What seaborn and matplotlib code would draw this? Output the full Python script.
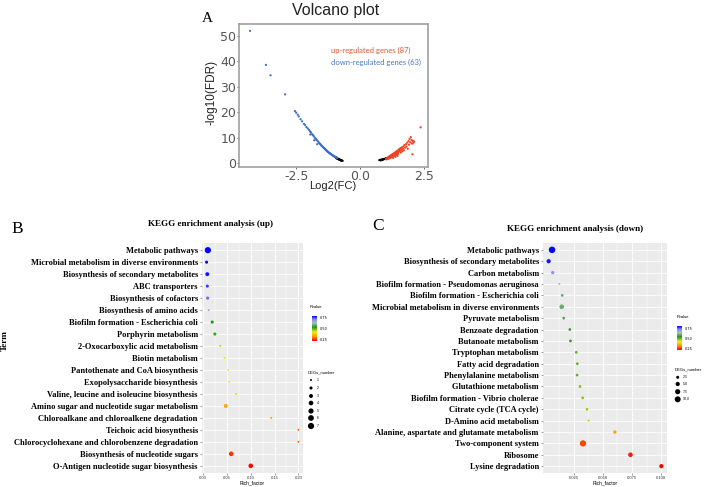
import numpy as np
import pandas as pd
import matplotlib
matplotlib.use('Agg')
import matplotlib.pyplot as plt
import seaborn as sns
from matplotlib.colors import LinearSegmentedColormap, Normalize
from matplotlib.cm import ScalarMappable

# ---- volcano data (log2FC, -log10 FDR) ----
down_pts = [(-4.30, 52.0), (-3.68, 38.6), (-3.50, 34.5), (-2.93, 27.0),
            (-2.55, 20.4), (-2.50, 19.8), (-2.44, 19.0), (-2.40, 18.3), (-2.33, 17.2),
            (-2.27, 16.4), (-2.20, 15.4), (-2.15, 14.9), (-2.10, 14.1), (-2.05, 13.6),
            (-2.00, 13.0), (-1.96, 12.4), (-1.95, 11.2), (-1.92, 12.0), (-1.88, 11.3),
            (-1.85, 11.0), (-1.82, 10.6), (-1.80, 8.9), (-1.78, 10.0), (-1.75, 9.7),
            (-1.72, 9.3), (-1.70, 9.0), (-1.68, 7.4), (-1.66, 8.6), (-1.62, 8.1),
            (-1.60, 7.8), (-1.57, 7.5), (-1.55, 7.3), (-1.52, 6.9), (-1.50, 6.7),
            (-1.47, 6.4), (-1.45, 6.2), (-1.42, 5.9), (-1.40, 5.7), (-1.38, 5.5),
            (-1.36, 5.3), (-1.34, 5.1), (-1.32, 4.9), (-1.30, 4.7), (-1.28, 4.5),
            (-1.26, 4.4), (-1.24, 4.2), (-1.22, 4.0), (-1.20, 3.9), (-1.18, 3.7),
            (-1.16, 3.6), (-1.14, 3.4), (-1.12, 3.3), (-1.10, 3.1), (-1.08, 3.0),
            (-1.06, 2.9), (-1.04, 2.7), (-1.02, 2.6), (-1.00, 2.5), (-0.98, 2.4),
            (-0.96, 2.3), (-0.94, 2.2), (-0.92, 2.1), (-0.90, 2.0)]
up_pts = [(1.00, 1.5), (1.02, 1.7), (1.03, 1.4), (1.05, 1.9), (1.06, 1.6), (1.07, 2.1),
          (1.08, 1.8), (1.09, 2.3), (1.10, 2.0), (1.11, 1.7), (1.12, 2.5), (1.13, 2.2),
          (1.14, 1.9), (1.15, 2.7), (1.16, 2.4), (1.17, 2.1), (1.18, 2.9), (1.19, 2.6),
          (1.20, 2.2), (1.21, 3.1), (1.22, 2.8), (1.23, 2.4), (1.24, 3.3), (1.25, 3.0),
          (1.26, 2.6), (1.27, 3.5), (1.28, 3.1), (1.29, 2.7), (1.30, 3.7), (1.31, 3.3),
          (1.32, 2.9), (1.33, 3.9), (1.34, 3.5), (1.35, 3.0), (1.36, 4.1), (1.38, 4.3),
          (1.39, 3.7), (1.40, 3.2), (1.42, 4.6), (1.43, 4.0), (1.44, 3.5), (1.46, 4.9),
          (1.47, 4.2), (1.48, 3.6), (1.50, 5.2), (1.52, 4.5), (1.53, 5.5), (1.55, 4.8),
          (1.57, 5.8), (1.58, 4.1), (1.60, 5.2), (1.62, 6.1), (1.64, 4.6), (1.66, 5.6),
          (1.68, 6.5), (1.70, 5.0), (1.72, 7.0), (1.75, 6.0), (1.78, 7.4), (1.80, 6.5),
          (1.83, 8.0), (1.85, 5.6), (1.88, 8.6), (1.90, 7.2), (1.92, 9.5), (1.95, 8.1),
          (1.97, 10.2), (2.00, 9.0), (2.02, 7.6), (2.05, 8.7), (2.07, 8.0), (2.03, 3.4),
          (2.10, 8.4), (2.35, 14.0), (1.45, 2.8), (1.37, 2.4), (1.28, 2.0)]
ns_pts = [(-0.95, 2.0), (-0.93, 1.9), (-0.91, 1.8), (-0.89, 1.7), (-0.88, 1.65), (-0.86, 1.6),
          (-0.85, 1.5), (-0.84, 1.45), (-0.83, 1.4), (-0.82, 1.35), (-0.81, 1.3), (-0.80, 1.25),
          (-0.79, 1.2), (-0.78, 1.15), (-0.77, 1.1), (-0.76, 1.05), (-0.75, 1.0), (-0.73, 0.95),
          (-0.71, 0.9), (-0.69, 0.85), (0.74, 1.1), (0.78, 1.2), (0.82, 1.3), (0.85, 1.35),
          (0.88, 1.4), (0.90, 1.45), (0.92, 1.5), (0.94, 1.55), (0.96, 1.6), (0.98, 1.7),
          (1.00, 1.75), (1.02, 1.8), (1.04, 1.9), (0.80, 1.0), (0.86, 1.15)]

# ---- KEGG enrichment (up) ----
up_terms = ["Metabolic pathways", "Microbial metabolism in diverse environments",
            "Biosynthesis of secondary metabolites", "ABC transporters",
            "Biosynthesis of cofactors", "Biosynthesis of amino acids",
            "Biofilm formation - Escherichia coli", "Porphyrin metabolism",
            "2-Oxocarboxylic acid metabolism", "Biotin metabolism",
            "Pantothenate and CoA biosynthesis", "Exopolysaccharide biosynthesis",
            "Valine, leucine and isoleucine biosynthesis",
            "Amino sugar and nucleotide sugar metabolism",
            "Chloroalkane and chloroalkene degradation", "Teichoic acid biosynthesis",
            "Chlorocyclohexane and chlorobenzene degradation",
            "Biosynthesis of nucleotide sugars", "O-Antigen nucleotide sugar biosynthesis"]
up_rich = [0.010, 0.0073, 0.0088, 0.0088, 0.0094, 0.0115, 0.019, 0.0246, 0.036, 0.045,
           0.0525, 0.055, 0.069, 0.0475, 0.143, 0.200, 0.200, 0.059, 0.100]
up_pval = [0.795, 0.790, 0.785, 0.760, 0.735, 0.680, 0.540, 0.525, 0.460, 0.440,
           0.430, 0.425, 0.395, 0.345, 0.335, 0.300, 0.300, 0.260, 0.230]
up_degs = [7, 2, 3, 2, 2, 1, 2, 2, 1, 1, 1, 1, 1, 3, 1, 1, 1, 4, 4]

# ---- KEGG enrichment (down) ----
down_terms = ["Metabolic pathways", "Biosynthesis of secondary metabolites",
              "Carbon metabolism", "Biofilm formation - Pseudomonas aeruginosa",
              "Biofilm formation - Escherichia coli",
              "Microbial metabolism in diverse environments", "Pyruvate metabolism",
              "Benzoate degradation", "Butanoate metabolism", "Tryptophan metabolism",
              "Fatty acid degradation", "Phenylalanine metabolism",
              "Glutathione metabolism", "Biofilm formation - Vibrio cholerae",
              "Citrate cycle (TCA cycle)", "D-Amino acid metabolism",
              "Alanine, aspartate and glutamate metabolism", "Two-component system",
              "Ribosome", "Lysine degradation"]
down_rich = [0.0066, 0.0037, 0.0072, 0.0129, 0.0153, 0.0149, 0.0166, 0.0218, 0.0224,
             0.0273, 0.0282, 0.0280, 0.0305, 0.0328, 0.0365, 0.0379, 0.0603, 0.0330,
             0.0736, 0.1000]
down_pval = [0.795, 0.785, 0.710, 0.630, 0.590, 0.590, 0.570, 0.530, 0.530, 0.505,
             0.505, 0.505, 0.490, 0.485, 0.475, 0.470, 0.340, 0.270, 0.245, 0.225]
down_degs = [12, 5, 3, 1, 2, 6, 2, 2, 2, 2, 2, 2, 2, 2, 2, 1, 3, 11, 6, 5]

W, H = 708, 487


def fx(px):
    return px / W


def fy(py):
    return 1 - py / H


cmap = LinearSegmentedColormap.from_list(
    'pv', [(0.0, '#ff0000'), (0.18, '#ff9900'), (0.36, '#eeee10'), (0.55, '#1e961e'),
           (0.72, '#a6c4a6'), (0.86, '#8a8aff'), (1.0, '#0000ff')])

serif = 'Liberation Serif'
sans = 'Liberation Sans'

fig = plt.figure(figsize=(7.08, 4.87), dpi=100)

# ================= A: volcano =================
axA = fig.add_axes([fx(239), fy(167), 189 / W, 143 / H])
vol = pd.concat([
    pd.DataFrame(ns_pts, columns=['fc', 'fdr']).assign(group='ns'),
    pd.DataFrame(down_pts, columns=['fc', 'fdr']).assign(group='down'),
    pd.DataFrame(up_pts, columns=['fc', 'fdr']).assign(group='up'),
])
sns.scatterplot(data=vol, x='fc', y='fdr', hue='group',
                palette={'ns': 'black', 'down': '#3b6dc2', 'up': '#ee4322'},
                s=2.5, linewidth=0, legend=False, ax=axA)
axA.set_xlim(-4.73, 2.64)
axA.set_ylim(-1.6, 54.7)
axA.set_xticks([-2.5, 0.0, 2.5])
axA.set_xticklabels(['-2.5', '0.0', '2.5'])
axA.set_yticks([0, 10, 20, 30, 40, 50])
axA.tick_params(labelsize=9, colors='#555555', length=1.5, width=0.6, pad=0.5)
for sp in axA.spines.values():
    sp.set_color('#a0a0a0')
    sp.set_linewidth(1.2)
axA.set_xlabel('')
axA.set_ylabel('')
fig.text(fx(336), fy(10), 'Volcano plot', fontsize=11.5, family=sans,
         ha='center', va='center', color='#222222')
fig.text(fx(207.5), fy(18.5), 'A', fontsize=11, family=serif, ha='center', va='center')
fig.text(fx(211), fy(92), '-log10(FDR)', fontsize=8.5, family=sans, rotation=90,
         ha='center', va='center', color='#222222')
fig.text(fx(333), fy(186), 'Log2(FC)', fontsize=8, family=sans,
         ha='center', va='center', color='#222222')
fig.text(fx(331), fy(50), 'up-regulated genes (87)', fontsize=5.5, family='Lato',
         ha='left', va='center', color='#e4582f')
fig.text(fx(331), fy(62.3), 'down-regulated genes (63)', fontsize=5.5, family='Lato',
         ha='left', va='center', color='#4a78c0')


def kegg_panel(rect, terms, rich, pval, degs, norm, size_norm, sizes, major, minor, ticklabels):
    ax = fig.add_axes(rect)
    df = pd.DataFrame({'row': np.arange(len(terms)), 'rich': rich,
                       'Pvalue': pval, 'DEGs_number': degs})
    ax.set_facecolor('#ebebeb')
    ax.set_axisbelow(True)
    sns.scatterplot(data=df, x='rich', y='row', hue='Pvalue', palette=cmap, hue_norm=norm,
                    size='DEGs_number', sizes=sizes, size_norm=size_norm,
                    linewidth=0, legend=False, ax=ax, zorder=3)
    r = max(rich) - min(rich)
    ax.set_xlim(min(rich) - 0.05 * r, max(rich) + 0.05 * r)
    ax.set_ylim(len(terms) - 0.4, -0.6)
    ax.set_yticks(np.arange(len(terms)))
    ax.set_yticklabels(terms, fontsize=6, family=serif, fontweight='bold')
    ax.set_xticks(major)
    ax.set_xticklabels(ticklabels, fontsize=3, family=sans, color='#333333')
    ax.set_xticks(minor, minor=True)
    ax.grid(True, which='major', color='white', linewidth=0.6)
    ax.grid(True, which='minor', axis='x', color='white', linewidth=0.3)
    ax.tick_params(axis='y', length=1.5, width=0.4, color='#555555', pad=1.5)
    ax.tick_params(axis='x', which='major', length=1.5, width=0.4, color='#555555', pad=1)
    ax.tick_params(axis='x', which='minor', length=0)
    for sp in ax.spines.values():
        sp.set_visible(False)
    ax.set_xlabel('')
    ax.set_ylabel('')
    return ax


def add_legends(norm, size_norm, sizes, cb_rect, pv_pos, deg_title, deg_vals, deg_labels,
                dot_x, lab_x, deg_y):
    cax = fig.add_axes(cb_rect)
    cb = fig.colorbar(ScalarMappable(norm=norm, cmap=cmap), cax=cax, ticks=[0.25, 0.5, 0.75])
    cb.ax.set_yticklabels(['0.25', '0.50', '0.75'])
    cb.outline.set_visible(False)
    cb.ax.tick_params(labelsize=2.5, length=1, width=0.3, color='white', pad=1)
    fig.text(fx(pv_pos[0]), fy(pv_pos[1]), 'Pvalue', fontsize=3, family=sans,
             ha='left', va='center')
    fig.text(fx(deg_title[0]), fy(deg_title[1]), 'DEGs_number', fontsize=3, family=sans,
             ha='left', va='center')
    lax = fig.add_axes([0, 0, 1, 1])
    lax.set_xlim(0, W)
    lax.set_ylim(H, 0)
    lax.axis('off')
    s = np.interp(deg_vals, size_norm, sizes)
    lax.scatter([dot_x] * len(deg_vals), deg_y, s=s, color='black', linewidth=0)
    for lab, yy in zip(deg_labels, deg_y):
        lax.text(lab_x, yy, lab, fontsize=2.5, family=sans, ha='left', va='center')


# ================= B: KEGG up =================
normB = Normalize(0.227, 0.795)
axB = kegg_panel([fx(202), fy(473), 101 / W, 230 / H], up_terms, up_rich, up_pval, up_degs,
                 normB, (1, 7), (2, 20), [0, 0.05, 0.10, 0.15, 0.20],
                 [0.025, 0.075, 0.125, 0.175], ['0.00', '0.05', '0.10', '0.15', '0.20'])
fig.text(fx(210), fy(224.5), 'KEGG enrichment analysis (up)', fontsize=6.6, family=serif,
         fontweight='bold', ha='center', va='center')
fig.text(fx(17.7), fy(229), 'B', fontsize=12.5, family=serif, ha='center', va='center')
fig.text(fx(5), fy(341), 'Term', fontsize=6.6, family=serif, fontweight='bold',
         rotation=90, ha='center', va='center')
fig.text(fx(252), fy(483), 'Rich_factor', fontsize=3.5, family=sans, ha='center', va='center')
add_legends(normB, (1, 7), (2, 20), [fx(312), fy(341), 5 / W, 25 / H], (310, 307.3),
            (307.3, 372.7), [1, 2, 3, 4, 5, 6, 7], ['1', '2', '3', '4', '5', '6', '7'],
            311, 316.5, [380, 388, 396, 403, 411, 418, 426])

# ================= C: KEGG down =================
normC = Normalize(0.225, 0.798)
axC = kegg_panel([fx(543), fy(473), 124 / W, 230 / H], down_terms, down_rich, down_pval,
                 down_degs, normC, (1, 12), (2, 22), [0.025, 0.05, 0.075, 0.1],
                 [0.0125, 0.0375, 0.0625, 0.0875], ['0.025', '0.050', '0.075', '0.100'])
fig.text(fx(574.7), fy(228.7), 'KEGG enrichment analysis (down)', fontsize=6.6, family=serif,
         fontweight='bold', ha='center', va='center')
fig.text(fx(378.5), fy(225.5), 'C', fontsize=12.5, family=serif, ha='center', va='center')
fig.text(fx(605), fy(483), 'Rich_factor', fontsize=3.5, family=sans, ha='center', va='center')
add_legends(normC, (1, 12), (2, 22), [fx(677), fy(350), 4.5 / W, 24 / H], (676.7, 317.3),
            (674.3, 369.3), [2.5, 5.0, 7.5, 10.0], ['2.5', '5.0', '7.5', '10.0'],
            677.7, 683, [377.3, 384, 391.7, 399.3])

fig.savefig('out.png', dpi=100)
